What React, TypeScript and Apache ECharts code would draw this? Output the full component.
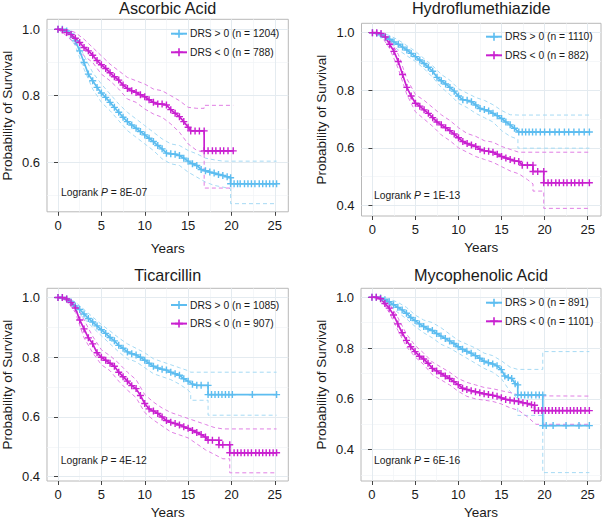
import React, { useEffect, useRef } from 'react';
import * as echarts from 'echarts';

const FONT = '"Liberation Sans", Arial, Helvetica, sans-serif';
const TEXT = '#1a1a1a';
const BLUE = '#5dbdf0';
const MAGENTA = '#c920d0';
const BLUE_CI = '#a6daf4';
const MAGENTA_CI = '#e07fe4';
const PLUS = 'path://M4,0H6V4H10V6H6V10H4V6H0V4H4Z';

// ---- labels ----
const drugNames = ['Ascorbic Acid', 'Hydroflumethiazide', 'Ticarcillin', 'Mycophenolic Acid'];
const posCounts = [1204, 1110, 1085, 891];
const negCounts = [788, 882, 907, 1101];
const pValues = ['8E-07', '1E-13', '4E-12', '6E-16'];
const yearTicks = [0, 5, 10, 15, 20, 25];
const yearMinorTicks = [2.5, 7.5, 12.5, 17.5, 22.5];
const survTicks = [0.4, 0.6, 0.8, 1.0];
const survMinorTicks = [0.3, 0.5, 0.7, 0.9];

// ---- Ascorbic Acid ----
const ascorbicPos = [[0,1],[0.5,1],[1,0.995],[1.5,0.985],[2,0.965],[2.5,0.935],[3,0.9],[3.5,0.865],[4,0.845],[4.5,0.825],[5,0.808],[5.5,0.795],[6,0.78],[6.5,0.765],[7,0.75],[7.5,0.735],[8,0.722],[8.5,0.712],[9,0.702],[9.5,0.692],[10,0.682],[10.5,0.672],[11,0.662],[11.5,0.65],[12,0.64],[12.5,0.627],[13,0.625],[13.5,0.624],[14,0.62],[14.5,0.612],[15,0.603],[15.5,0.595],[16,0.59],[16.5,0.578],[17,0.574],[17.5,0.57],[18,0.567],[18.5,0.563],[19,0.56],[19.5,0.556],[19.9,0.553],[19.9,0.535],[20.3,0.535],[20.7,0.535],[21,0.535],[21.5,0.535],[21.9,0.535],[22.3,0.535],[22.7,0.535],[23.2,0.535],[23.6,0.535],[24,0.535],[24.4,0.535],[24.8,0.535],[25.2,0.535]];
const ascorbicPosUpper = [[0,1],[1,1],[2,0.98],[3,0.92],[4,0.87],[5,0.835],[6,0.805],[7,0.775],[8,0.75],[9,0.73],[10,0.71],[11,0.69],[12,0.67],[13,0.655],[14,0.65],[15,0.635],[16,0.625],[17,0.612],[18,0.607],[19,0.603],[19.9,0.603],[25.2,0.603]];
const ascorbicPosLower = [[0,1],[1,0.99],[2,0.95],[3,0.88],[4,0.82],[5,0.78],[6,0.755],[7,0.725],[8,0.695],[9,0.675],[10,0.655],[11,0.635],[12,0.61],[13,0.595],[14,0.59],[15,0.57],[16,0.555],[17,0.54],[18,0.53],[19,0.525],[19.9,0.52],[19.9,0.475],[25.2,0.475]];
const ascorbicNeg = [[0,1],[0.5,0.998],[1,0.99],[1.5,0.984],[2,0.973],[2.5,0.96],[3,0.945],[3.5,0.935],[4,0.922],[4.5,0.906],[5,0.893],[5.5,0.882],[6,0.869],[6.5,0.857],[7,0.847],[7.5,0.832],[8,0.822],[8.5,0.815],[9,0.81],[9.5,0.803],[10,0.797],[10.5,0.788],[11,0.78],[11.5,0.775],[12,0.775],[12.5,0.772],[13,0.758],[13.5,0.747],[14,0.737],[14.5,0.722],[15,0.705],[15.3,0.694],[15.8,0.694],[16.3,0.694],[16.85,0.694],[16.85,0.634],[17.3,0.634],[17.8,0.634],[18.2,0.634],[18.7,0.634],[19.1,0.634],[19.6,0.634],[20.2,0.634]];
const ascorbicNegUpper = [[0,1],[1,1],[2,0.99],[3,0.97],[4,0.945],[5,0.92],[6,0.895],[7,0.875],[8,0.855],[9,0.845],[10,0.835],[11,0.82],[12,0.815],[13,0.8],[14,0.785],[15,0.765],[16,0.762],[16.85,0.762],[16.85,0.771],[20.2,0.771]];
const ascorbicNegLower = [[0,1],[1,0.98],[2,0.955],[3,0.92],[4,0.9],[5,0.865],[6,0.845],[7,0.82],[8,0.79],[9,0.78],[10,0.76],[11,0.745],[12,0.735],[13,0.715],[14,0.69],[15,0.655],[16,0.635],[16.85,0.63],[16.85,0.522],[20.2,0.522]];

// ---- Hydroflumethiazide ----
const hydroPos = [[0,1],[0.5,0.998],[1,0.993],[1.5,0.985],[2,0.977],[2.5,0.968],[3,0.96],[3.5,0.95],[4,0.94],[4.5,0.928],[5,0.917],[5.5,0.905],[6,0.893],[6.5,0.88],[7,0.866],[7.5,0.845],[8,0.833],[8.5,0.822],[9,0.81],[9.5,0.797],[10,0.78],[10.5,0.767],[11,0.765],[11.5,0.76],[12,0.749],[12.5,0.737],[13,0.733],[13.5,0.728],[14,0.72],[14.5,0.712],[15,0.702],[15.5,0.69],[16,0.68],[16.5,0.668],[17,0.655],[17.4,0.655],[17.8,0.655],[18.2,0.655],[18.6,0.655],[19,0.655],[19.5,0.655],[20,0.655],[20.6,0.655],[21.2,0.655],[21.7,0.655],[22.3,0.655],[22.8,0.655],[23.4,0.655],[24,0.655],[24.6,0.655],[25.2,0.655]];
const hydroPosUpper = [[0,1],[1,1],[2,0.99],[3,0.975],[4,0.955],[5,0.935],[6,0.91],[7,0.885],[8,0.855],[9,0.835],[10,0.805],[11,0.79],[12,0.775],[13,0.765],[14,0.75],[15,0.73],[16,0.715],[17,0.714],[25.2,0.714]];
const hydroPosLower = [[0,1],[1,0.985],[2,0.965],[3,0.94],[4,0.92],[5,0.9],[6,0.875],[7,0.845],[8,0.81],[9,0.785],[10,0.755],[11,0.74],[12,0.72],[13,0.705],[14,0.69],[15,0.66],[16,0.64],[16.9,0.63],[16.9,0.599],[25.2,0.599]];
const hydroNeg = [[0,1],[0.5,1],[1,0.997],[1.5,0.985],[2,0.96],[2.5,0.935],[3,0.9],[3.5,0.855],[4,0.81],[4.5,0.78],[5,0.755],[5.5,0.745],[6,0.732],[6.5,0.72],[7,0.705],[7.5,0.69],[8,0.68],[8.5,0.67],[9,0.66],[9.5,0.648],[10,0.635],[10.5,0.622],[11,0.615],[11.5,0.61],[12,0.605],[12.5,0.595],[13,0.59],[13.5,0.588],[14,0.585],[14.5,0.578],[15,0.57],[15.5,0.565],[16,0.56],[16.5,0.555],[17,0.553],[17.4,0.54],[18,0.54],[18.65,0.54],[18.65,0.518],[19.2,0.518],[19.9,0.518],[19.9,0.479],[20.4,0.479],[20.8,0.479],[21.3,0.479],[21.7,0.479],[22.2,0.479],[22.6,0.479],[23.1,0.479],[23.5,0.479],[24,0.479],[24.4,0.479],[25.2,0.479]];
const hydroNegUpper = [[0,1],[1,1],[2,0.975],[3,0.925],[4,0.84],[5,0.785],[6,0.765],[7,0.74],[8,0.715],[9,0.695],[10,0.67],[11,0.65],[12,0.64],[13,0.625],[14,0.62],[15,0.605],[16,0.595],[17,0.585],[25.2,0.585]];
const hydroNegLower = [[0,1],[1,0.99],[2,0.945],[3,0.875],[4,0.785],[5,0.725],[6,0.7],[7,0.675],[8,0.645],[9,0.625],[10,0.6],[11,0.585],[12,0.57],[13,0.56],[14,0.55],[15,0.535],[16,0.52],[17,0.51],[18,0.49],[18.65,0.475],[18.65,0.45],[19.9,0.45],[19.9,0.39],[25.2,0.39]];

// ---- Ticarcillin ----
const ticarPos = [[0,1],[0.5,1],[1,0.995],[1.5,0.985],[2,0.972],[2.5,0.96],[3,0.945],[3.5,0.93],[4,0.918],[4.5,0.905],[5,0.892],[5.5,0.88],[6,0.866],[6.5,0.855],[7,0.84],[7.5,0.83],[8,0.818],[8.5,0.812],[9,0.808],[9.5,0.8],[10,0.79],[10.5,0.78],[11,0.77],[11.5,0.764],[12,0.76],[12.5,0.757],[13,0.75],[13.5,0.745],[14,0.74],[14.5,0.728],[15,0.72],[15.5,0.71],[16,0.706],[16.5,0.706],[17.3,0.706],[17.3,0.675],[17.7,0.675],[18.1,0.675],[18.5,0.675],[18.9,0.675],[19.3,0.675],[19.7,0.675],[20.1,0.675],[22.4,0.675],[25.2,0.675]];
const ticarPosUpper = [[0,1],[1,1],[2,0.985],[3,0.96],[4,0.935],[5,0.91],[6,0.888],[7,0.865],[8,0.845],[9,0.83],[10,0.815],[11,0.795],[12,0.785],[13,0.775],[14,0.765],[15,0.755],[15.3,0.75],[25.2,0.75]];
const ticarPosLower = [[0,1],[1,0.988],[2,0.96],[3,0.93],[4,0.9],[5,0.872],[6,0.845],[7,0.818],[8,0.795],[9,0.785],[10,0.765],[11,0.745],[12,0.735],[13,0.725],[14,0.71],[15,0.69],[15.3,0.68],[15.3,0.656],[17.3,0.656],[17.3,0.606],[25.2,0.606]];
const ticarNeg = [[0,1],[0.5,1],[1,0.995],[1.5,0.983],[2,0.965],[2.5,0.925],[3,0.895],[3.5,0.865],[4,0.845],[4.5,0.815],[5,0.8],[5.5,0.79],[6,0.78],[6.5,0.77],[7,0.75],[7.5,0.735],[8,0.72],[8.5,0.705],[9,0.695],[9.5,0.672],[10,0.645],[10.5,0.627],[11,0.62],[11.5,0.612],[12,0.6],[12.5,0.588],[13,0.582],[13.5,0.578],[14,0.573],[14.5,0.567],[15,0.562],[15.5,0.555],[16,0.548],[16.5,0.541],[17,0.533],[17.3,0.522],[17.8,0.522],[18.55,0.522],[18.55,0.507],[19,0.507],[19.8,0.507],[19.8,0.48],[20.3,0.48],[20.7,0.48],[21.1,0.48],[21.5,0.48],[21.9,0.48],[22.3,0.48],[22.8,0.48],[23.2,0.48],[23.6,0.48],[24,0.48],[24.4,0.48],[24.8,0.48],[25.2,0.48]];
const ticarNegUpper = [[0,1],[1,1],[2,0.98],[3,0.925],[4,0.87],[5,0.825],[6,0.805],[7,0.78],[8,0.75],[9,0.725],[10,0.675],[11,0.65],[12,0.63],[13,0.615],[14,0.605],[15,0.595],[16,0.585],[17,0.575],[18,0.565],[19,0.56],[25.2,0.56]];
const ticarNegLower = [[0,1],[1,0.99],[2,0.95],[3,0.865],[4,0.815],[5,0.775],[6,0.755],[7,0.72],[8,0.69],[9,0.665],[10,0.615],[11,0.59],[12,0.57],[13,0.55],[14,0.54],[15,0.53],[16,0.51],[17,0.49],[18,0.475],[19,0.46],[19.8,0.46],[19.8,0.413],[25.2,0.413]];

// ---- Mycophenolic Acid ----
const mycoPos = [[0,1],[0.5,1],[1,0.997],[1.5,0.99],[2,0.982],[2.5,0.97],[3,0.96],[3.5,0.95],[4,0.937],[4.5,0.92],[5,0.908],[5.5,0.895],[6,0.885],[6.5,0.875],[7,0.869],[7.5,0.857],[8,0.847],[8.5,0.838],[9,0.828],[9.5,0.818],[10,0.805],[10.5,0.795],[11,0.787],[11.5,0.78],[12,0.77],[12.5,0.76],[13,0.748],[13.5,0.742],[14,0.737],[14.5,0.73],[15,0.715],[15.4,0.69],[15.8,0.684],[16.2,0.68],[16.6,0.66],[16.9,0.655],[16.9,0.615],[17.3,0.615],[17.7,0.615],[18.1,0.615],[18.5,0.615],[19,0.615],[19.4,0.615],[19.8,0.615],[19.8,0.495],[20.2,0.495],[21,0.495],[22.5,0.495],[24,0.495],[25.2,0.495]];
const mycoPosUpper = [[0,1],[1,1],[2,0.993],[3,0.98],[4,0.96],[5,0.93],[6,0.91],[7,0.9],[8,0.88],[9,0.855],[10,0.83],[11,0.815],[12,0.8],[13,0.78],[14,0.77],[15,0.75],[16,0.725],[16.9,0.716],[19.8,0.716],[19.8,0.786],[25.2,0.786]];
const mycoPosLower = [[0,1],[1,0.99],[2,0.97],[3,0.94],[4,0.915],[5,0.885],[6,0.86],[7,0.84],[8,0.815],[9,0.8],[10,0.78],[11,0.76],[12,0.74],[13,0.72],[14,0.705],[15,0.68],[16,0.63],[16.9,0.6],[16.9,0.535],[19.8,0.535],[19.8,0.31],[25.2,0.31]];
const mycoNeg = [[0,1],[0.5,1],[1,0.994],[1.5,0.975],[2,0.957],[2.5,0.93],[3,0.895],[3.5,0.86],[4,0.83],[4.5,0.805],[5,0.786],[5.5,0.768],[6,0.757],[6.5,0.74],[7,0.72],[7.5,0.71],[8,0.7],[8.5,0.69],[9,0.68],[9.5,0.668],[10,0.656],[10.5,0.642],[11,0.637],[11.5,0.632],[12,0.628],[12.5,0.624],[13,0.62],[13.5,0.617],[14,0.614],[14.5,0.61],[15,0.604],[15.5,0.598],[16,0.595],[16.5,0.592],[17,0.59],[17.5,0.585],[18,0.582],[18.5,0.577],[18.85,0.575],[18.85,0.554],[19.3,0.554],[19.7,0.554],[20.1,0.554],[20.5,0.554],[20.9,0.554],[21.3,0.554],[21.7,0.554],[22.1,0.554],[22.6,0.554],[23,0.554],[23.4,0.554],[23.8,0.554],[24.2,0.554],[24.7,0.554],[25.2,0.554]];
const mycoNegUpper = [[0,1],[1,1],[2,0.975],[3,0.92],[4,0.855],[5,0.81],[6,0.78],[7,0.745],[8,0.725],[9,0.705],[10,0.68],[11,0.665],[12,0.655],[13,0.645],[14,0.64],[15,0.632],[16,0.625],[17,0.615],[18,0.612],[25.2,0.611]];
const mycoNegLower = [[0,1],[1,0.99],[2,0.94],[3,0.87],[4,0.805],[5,0.765],[6,0.735],[7,0.695],[8,0.675],[9,0.655],[10,0.63],[11,0.61],[12,0.6],[13,0.595],[14,0.59],[15,0.58],[16,0.565],[17,0.555],[18,0.53],[19,0.5],[25.2,0.5]];

const panelCurves = [
  { pos: ascorbicPos, posUp: ascorbicPosUpper, posLo: ascorbicPosLower, neg: ascorbicNeg, negUp: ascorbicNegUpper, negLo: ascorbicNegLower },
  { pos: hydroPos, posUp: hydroPosUpper, posLo: hydroPosLower, neg: hydroNeg, negUp: hydroNegUpper, negLo: hydroNegLower },
  { pos: ticarPos, posUp: ticarPosUpper, posLo: ticarPosLower, neg: ticarNeg, negUp: ticarNegUpper, negLo: ticarNegLower },
  { pos: mycoPos, posUp: mycoPosUpper, posLo: mycoPosLower, neg: mycoNeg, negUp: mycoNegUpper, negLo: mycoNegLower },
];

// ---- layout (pixels) ----
const boxes = [
  { left: 47, top: 19.3, width: 241.3, height: 192.5 },
  { left: 361.5, top: 23.3, width: 239.5, height: 192.7 },
  { left: 47, top: 288.3, width: 241.3, height: 192.7 },
  { left: 361, top: 288.3, width: 240, height: 192.7 },
];
const yRanges = [[0.4505, 1.03], [0.3635, 1.0326], [0.3856, 1.031], [0.277, 1.035]];
const xRange = [-1.27, 26.55];
const xNameGaps = [30, 24, 24, 24];
const titlePos = [[167.7, 8.2], [481.2, 8.4], [167.7, 274.8], [481, 275]];
const logrankPos = [[61, 192.3], [374, 195], [60.7, 460.7], [374, 460.2]];
const legendPos = [[170, 28.7], [485, 31.7], [170, 300], [485, 297.7]];

function buildOption() {
  const grid: any[] = [];
  const xAxis: any[] = [];
  const yAxis: any[] = [];
  const series: any[] = [];
  const legend: any[] = [];
  const graphic: any[] = [];

  boxes.forEach((b, i) => {
    grid.push({ ...b, show: true, borderColor: '#b8b8b8', borderWidth: 1, backgroundColor: '#ffffff', containLabel: false, outerBoundsMode: 'none' });
    const yr = yRanges[i];
    xAxis.push({
      type: 'value', gridIndex: i, min: xRange[0], max: xRange[1],
      name: 'Years', nameLocation: 'middle', nameGap: xNameGaps[i],
      nameTextStyle: { fontSize: 13.5, color: TEXT, fontFamily: FONT },
      axisLine: { show: false },
      axisTick: { show: true, length: 4, customValues: yearTicks, lineStyle: { color: '#444', width: 1 } },
      axisLabel: { customValues: yearTicks, margin: 7, fontSize: 13, color: TEXT, fontFamily: FONT },
      splitLine: { show: true, lineStyle: { color: '#e4ebf0', width: 1 } },
      z: 1,
    });
    xAxis.push({
      type: 'value', gridIndex: i, min: xRange[0], max: xRange[1], show: true,
      axisLine: { show: false }, axisLabel: { show: false },
      axisTick: { show: false, customValues: yearMinorTicks },
      splitLine: { show: true, lineStyle: { color: '#f0f4f7', width: 0.7 } },
      z: 0,
    });
    yAxis.push({
      type: 'value', gridIndex: i, min: yr[0], max: yr[1],
      name: 'Probability of Survival', nameLocation: 'middle', nameGap: 33,
      nameTextStyle: { fontSize: 13.5, color: TEXT, fontFamily: FONT },
      axisLine: { show: false },
      axisTick: { show: true, length: 4, customValues: survTicks, lineStyle: { color: '#444', width: 1 } },
      axisLabel: { customValues: survTicks, margin: 7, fontSize: 13, color: TEXT, fontFamily: FONT, formatter: (v: number) => v.toFixed(1) },
      splitLine: { show: true, lineStyle: { color: '#e4ebf0', width: 1 } },
      z: 1,
    });
    yAxis.push({
      type: 'value', gridIndex: i, min: yr[0], max: yr[1], show: true,
      axisLine: { show: false }, axisLabel: { show: false },
      axisTick: { show: false, customValues: survMinorTicks },
      splitLine: { show: true, lineStyle: { color: '#f0f4f7', width: 0.7 } },
      z: 0,
    });

    const c = panelCurves[i];
    const posName = `DRS > 0 (n = ${posCounts[i]})`;
    const negName = `DRS < 0 (n = ${negCounts[i]})`;
    const ci = (data: number[][], color: string) => ({
      type: 'line', xAxisIndex: 2 * i, yAxisIndex: 2 * i, data,
      showSymbol: false, symbol: 'none', silent: true,
      lineStyle: { color, width: 1, type: [4, 3] }, z: 2,
    });
    series.push(ci(c.posUp, BLUE_CI), ci(c.posLo, BLUE_CI), ci(c.negUp, MAGENTA_CI), ci(c.negLo, MAGENTA_CI));
    const main = (name: string, data: number[][], color: string) => ({
      name, type: 'line', xAxisIndex: 2 * i, yAxisIndex: 2 * i, data,
      showSymbol: true, symbol: PLUS, symbolSize: 7,
      itemStyle: { color }, lineStyle: { color, width: 1.7 }, z: 3,
    });
    series.push(main(posName, c.pos, BLUE), main(negName, c.neg, MAGENTA));

    legend.push({
      data: [posName, negName], orient: 'vertical', left: legendPos[i][0], top: legendPos[i][1],
      itemWidth: 16, itemHeight: 10, itemGap: 8.6, padding: 0,
      textStyle: { fontSize: 10.3, color: TEXT, fontFamily: FONT, padding: [0, 0, 0, -2] },
      selectedMode: false,
    });

    graphic.push({
      type: 'text', x: titlePos[i][0], y: titlePos[i][1], silent: true,
      style: { text: drugNames[i], fontSize: 16.2, fontFamily: FONT, fill: TEXT, align: 'center', verticalAlign: 'middle' },
    });
    graphic.push({
      type: 'text', x: logrankPos[i][0], y: logrankPos[i][1], silent: true, z: 10,
      style: {
        text: `{n|Logrank }{i|P}{n| = ${pValues[i]}}`,
        verticalAlign: 'middle', align: 'left',
        rich: {
          n: { fontSize: 10.3, fontFamily: FONT, fill: TEXT },
          i: { fontSize: 10.3, fontFamily: FONT, fill: TEXT, fontStyle: 'italic' },
        },
      },
    });
  });

  return {
    animation: false,
    backgroundColor: '#ffffff',
    textStyle: { fontFamily: FONT },
    grid, xAxis, yAxis, series, legend, graphic,
  };
}

export default function App() {
  const ref = useRef<HTMLDivElement>(null);
  useEffect(() => {
    document.body.style.margin = '0';
    const chart = echarts.init(ref.current!, undefined, { renderer: 'svg' });
    chart.setOption(buildOption() as any);
    return () => chart.dispose();
  }, []);
  return <div ref={ref} style={{ width: 603, height: 521 }} />;
}
